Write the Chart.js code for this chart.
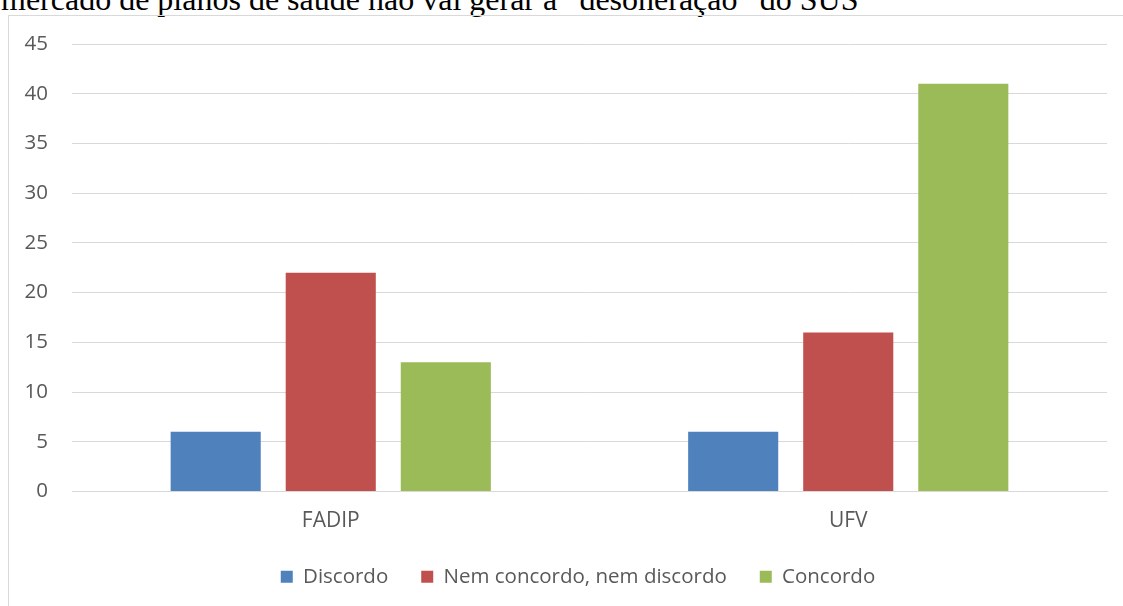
<!DOCTYPE html>
<html>
<head>
<meta charset="utf-8">
<script src="https://cdn.jsdelivr.net/npm/chart.js@4/dist/chart.umd.min.js"></script>
<style>
    html, body { margin: 0; padding: 0; background: #fff; overflow: hidden; }
    body { width: 1123px; height: 606px; position: relative; }
    #title {
        position: absolute; left: 1px; top: -17px;
        font-family: "Liberation Serif", "Times New Roman", serif;
        font-size: 32px; line-height: 32px; color: #000; white-space: nowrap;
    }
    #frame {
        position: absolute; left: 8px; top: 15px;
        width: 1115px; height: 591px;
        border-left: 1px solid #d9d9d9; border-top: 1px solid #d9d9d9;
    }
    #chart-box { position: absolute; left: 0; top: 0; width: 1115px; height: 590px; }
</style>
</head>
<body>
<div id="title">mercado de planos de saúde não vai gerar a “desoneração” do SUS</div>
<div id="frame"><div id="chart-box"><canvas id="chart"></canvas></div></div>
<script>
// --- Data ---
const categories = ['FADIP', 'UFV'];
const seriesNames = ['Discordo', 'Nem concordo, nem discordo', 'Concordo'];
const discordo = [6, 6];
const nemNem = [22, 16];
const concordo = [13, 41];
const seriesColors = ['#4f81bd', '#c0504d', '#9bbb59'];

const textColor = '#595959';
const gridColor = '#d9d9d9';

// nudge the legend a bit to the right, like the original
const legendOffset = {
    id: 'legendOffset',
    afterLayout(chart) {
        chart.legend.left += 40;
    }
};

document.addEventListener('DOMContentLoaded', () => {
    const ctx = document.getElementById('chart').getContext('2d');
    const values = [discordo, nemNem, concordo];

    new Chart(ctx, {
        type: 'bar',
        data: {
            labels: categories,
            datasets: seriesNames.map((name, i) => ({
                label: name,
                data: values[i],
                backgroundColor: seriesColors[i],
                borderWidth: 0,
                categoryPercentage: 0.667,
                barPercentage: 0.783
            }))
        },
        options: {
            responsive: true,
            maintainAspectRatio: false,
            animation: false,
            layout: { padding: { left: 0, right: 17, top: 28, bottom: 9 } },
            scales: {
                x: {
                    grid: { display: false },
                    border: { color: gridColor },
                    ticks: { color: textColor, font: { family: 'Open Sans', size: 21 }, padding: 9 },
                    afterFit: (scale) => { scale.height = 42; }
                },
                y: {
                    min: 0, max: 45,
                    ticks: { stepSize: 5, color: textColor, font: { family: 'Open Sans', size: 20.5 }, padding: 4 },
                    grid: { color: gridColor, drawTicks: true, tickLength: 20, tickColor: 'rgba(0,0,0,0)' },
                    border: { display: false },
                    afterFit: (scale) => { scale.width = 63; }
                }
            },
            plugins: {
                legend: {
                    position: 'bottom',
                    labels: {
                        color: textColor,
                        font: { family: 'Open Sans', size: 20.5 },
                        boxWidth: 12, boxHeight: 12,
                        padding: 33
                    }
                },
                tooltip: { enabled: false }
            }
        },
        plugins: [legendOffset]
    });
});
</script>
</body>
</html>
